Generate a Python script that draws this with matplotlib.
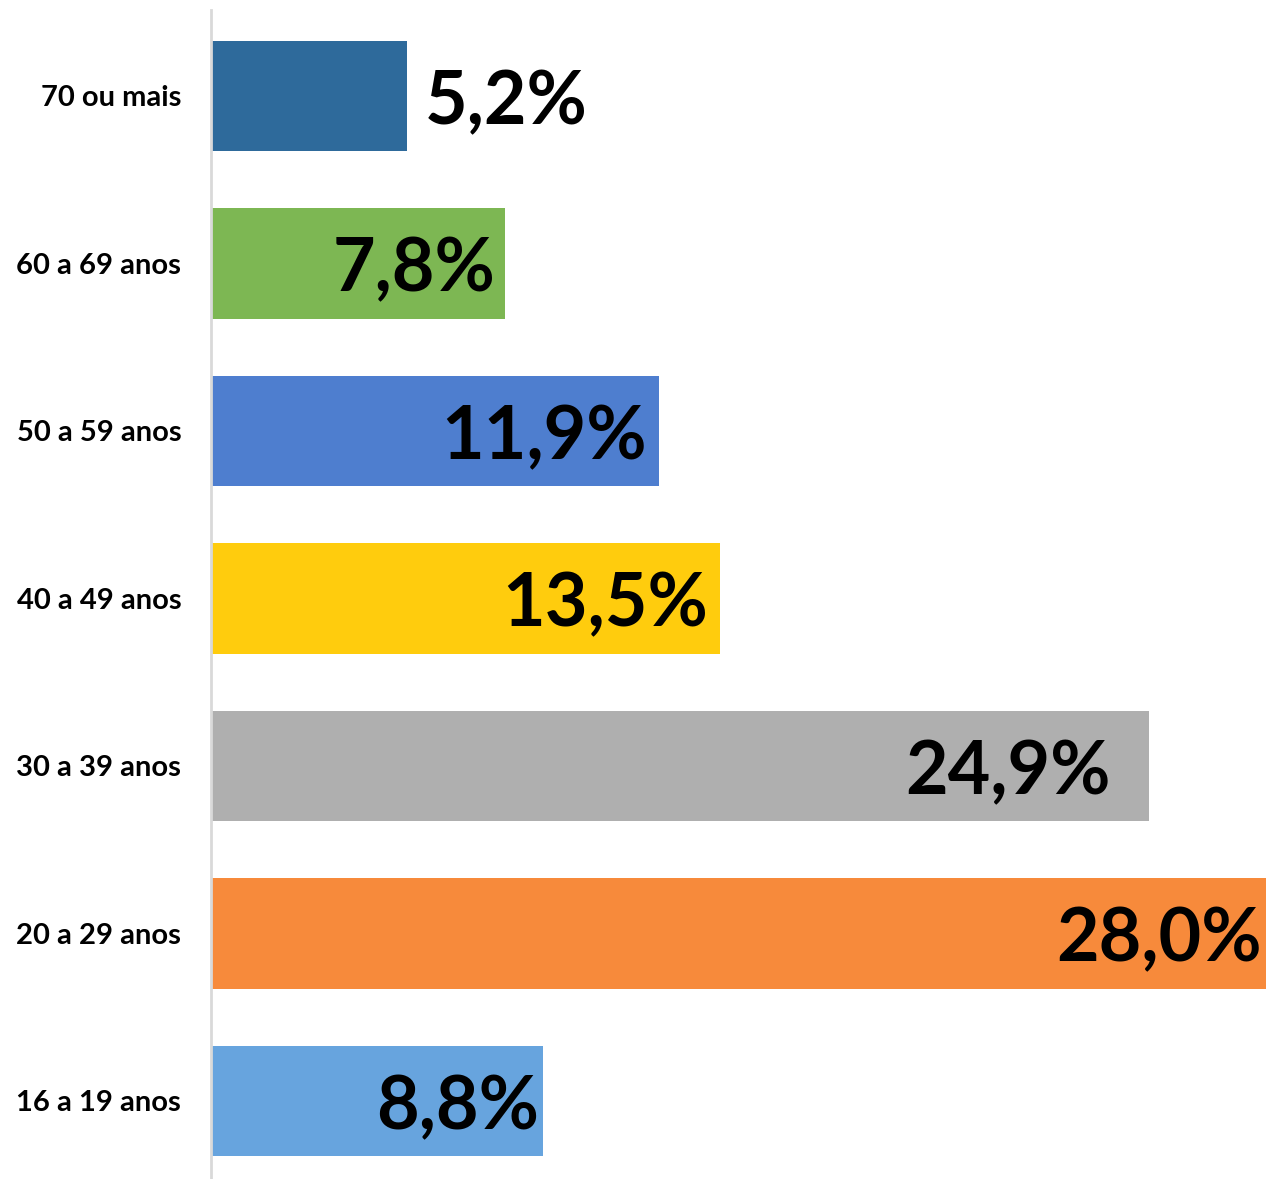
import matplotlib
matplotlib.use("Agg")
import matplotlib.pyplot as plt
from matplotlib.transforms import offset_copy

categories = ["16 a 19 anos", "20 a 29 anos", "30 a 39 anos", "40 a 49 anos",
              "50 a 59 anos", "60 a 69 anos", "70 ou mais"]
values = [8.8, 28.0, 24.9, 13.5, 11.9, 7.8, 5.2]
labels = ["8,8%", "28,0%", "24,9%", "13,5%", "11,9%", "7,8%", "5,2%"]
colors = ["#67A4DE", "#F78A3B", "#AFAFAF", "#FFCC0D", "#4E7ECF", "#7DB753", "#2E6A9B"]
# label placement: inside end (pad in px from bar end) or outside for the last
label_inside = [True, True, True, True, True, True, False]
label_pad_px = [3, 4, 38, 12, 13, 9, 18]

W, H = 1266, 1179
fig = plt.figure(figsize=(W / 100, H / 100), dpi=100)
ax = fig.add_axes([211 / W, 0, 1 - 211 / W, 1 - 10 / H])

y = list(range(len(categories)))
ax.barh(y, values, height=0.66, color=colors, zorder=2)
ax.set_xlim(0, 28.0)
ax.set_ylim(-0.466, 6.513)

ax.set_yticks(y)
ax.set_yticklabels(categories, fontfamily="Lato", fontweight="bold", fontsize=21, color="#000000")
ax.tick_params(axis="y", length=0, pad=21.5)
ax.set_xticks([])
for s in ["top", "right", "bottom"]:
    ax.spines[s].set_visible(False)
ax.spines["left"].set_color("#D9D9D9")
ax.spines["left"].set_linewidth(2)
ax.spines["left"].set_zorder(3)

for yi, v, lab, inside, pad in zip(y, values, labels, label_inside, label_pad_px):
    if inside:
        tr = offset_copy(ax.transData, fig=fig, x=-pad * 0.72, y=0, units="points")
        ha = "right"
    else:
        tr = offset_copy(ax.transData, fig=fig, x=pad * 0.72, y=0, units="points")
        ha = "left"
    ax.text(v, yi, lab, transform=tr, ha=ha, va="center_baseline",
            fontfamily="Lato", fontweight="bold", fontsize=53, color="#000000", zorder=4)

fig.savefig("out.png", dpi=100)
